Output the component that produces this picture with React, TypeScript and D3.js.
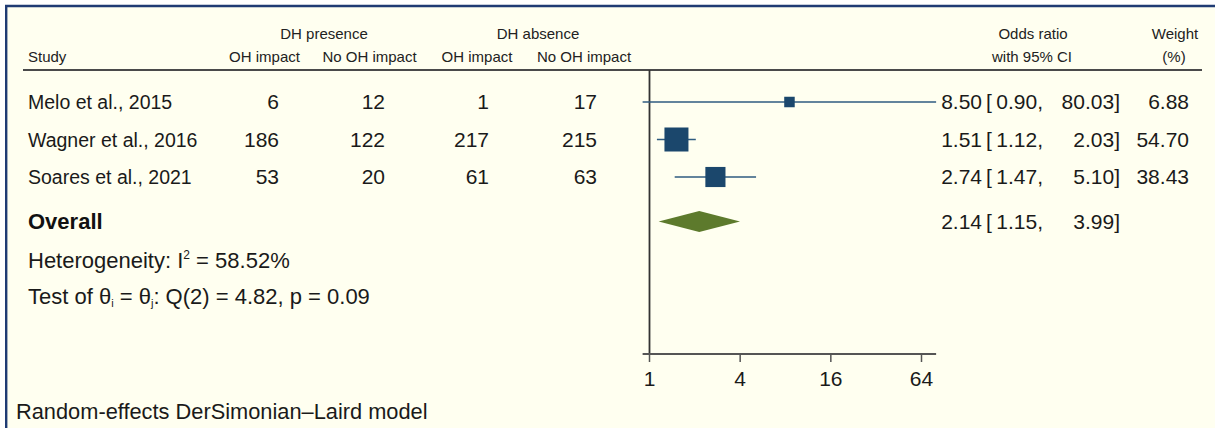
import React from 'react';
import * as d3 from 'd3';

const studies = ['Melo et al., 2015', 'Wagner et al., 2016', 'Soares et al., 2021'];
const dhPresenceOH = [6, 186, 53];
const dhPresenceNoOH = [12, 122, 20];
const dhAbsenceOH = [1, 217, 61];
const dhAbsenceNoOH = [17, 215, 63];
const oddsRatio = [8.5, 1.51, 2.74];
const ciLower = [0.9, 1.12, 1.47];
const ciUpper = [80.03, 2.03, 5.1];
const weights = [6.88, 54.7, 38.43];
const overallLabel = 'Overall';
const overallEstimate = [2.14, 1.15, 3.99];
const axisTicks = [1, 4, 16, 64];
const heterogeneityI2 = '58.52%';
const qStatistic = 'Q(2) = 4.82, p = 0.09';
const footnote = 'Random-effects DerSimonian\u2013Laird model';

const W = 1215;
const H = 428;
const FONT = "'Liberation Sans', Arial, Helvetica, sans-serif";
const TXT = '#1a1a1a';
const MARK = '#1b476c';
const CI_LINE = '#2f5b80';
const DIAMOND = '#5d7a2c';

export default function App() {
  const x = d3.scaleLog().base(2).domain([1, 64]).range([649.5, 921.5]);
  const y = d3.scalePoint<string>().domain(studies).range([102, 177]);
  const yOverall = 221.5;
  const side = d3.scaleSqrt().domain([0, d3.max(weights) as number]).range([0, 24]);
  const f2 = d3.format('.2f');
  const axisY = 354;
  const sepY = 70;
  const cols = [279, 385, 489, 597];
  const colData = [dhPresenceOH, dhPresenceNoOH, dhAbsenceOH, dhAbsenceNoOH];
  const subHeaders = [
    { t: 'OH impact', cx: 264.5 },
    { t: 'No OH impact', cx: 369.5 },
    { t: 'OH impact', cx: 477 },
    { t: 'No OH impact', cx: 584 },
  ];
  const orEnd = 982;
  const bracketX = 986;
  const lowEnd = 1043;
  const upEnd = 1120;
  const wEnd = 1189;

  const diamond = d3.line()([
    [x(overallEstimate[1]), yOverall],
    [x(overallEstimate[0]), yOverall - 10.5],
    [x(overallEstimate[2]), yOverall],
    [x(overallEstimate[0]), yOverall + 10.5],
  ]) + 'Z';

  const ciText = (o: number, l: number, u: number, yy: number, key: string) => (
    <g key={key} fontSize={21} fill={TXT}>
      <text x={orEnd} y={yy} textAnchor="end">{f2(o)}</text>
      <text x={bracketX} y={yy}>[</text>
      <text x={lowEnd} y={yy} textAnchor="end">{f2(l)},</text>
      <text x={upEnd} y={yy} textAnchor="end">{f2(u)}]</text>
    </g>
  );

  return (
    <svg width={W} height={H} style={{ position: 'absolute', left: 0, top: 0, display: 'block' }} fontFamily={FONT}>
      <rect x={0} y={0} width={W} height={H} fill="#ffffff" />
      <rect x={6} y={6} width={W - 6} height={H - 6} fill="#fffff0" />
      <line x1={5} y1={6} x2={W} y2={6} stroke="#1f3b73" strokeWidth={2.4} />
      <line x1={6.2} y1={5} x2={6.2} y2={H} stroke="#1f3b73" strokeWidth={2.4} />

      {/* header */}
      <g fontSize={15} fill="#222">
        <text x={324} y={39} textAnchor="middle">DH presence</text>
        <text x={538} y={39} textAnchor="middle">DH absence</text>
        <text x={1033} y={39} textAnchor="middle">Odds ratio</text>
        <text x={1175} y={39} textAnchor="middle">Weight</text>
        <text x={28} y={62}>Study</text>
        {subHeaders.map((h, i) => (
          <text key={i} x={h.cx} y={62} textAnchor="middle">{h.t}</text>
        ))}
        <text x={1032} y={62} textAnchor="middle">with 95% CI</text>
        <text x={1174} y={62} textAnchor="middle">(%)</text>
      </g>
      <line x1={23} y1={sepY} x2={1202} y2={sepY} stroke="#4a4a4a" strokeWidth={2.2} />

      {/* axis */}
      <line x1={x(1)} y1={sepY} x2={x(1)} y2={axisY} stroke="#333" strokeWidth={1.8} />
      <line x1={x(ciLower[0])} y1={axisY} x2={x(ciUpper[0])} y2={axisY} stroke="#555" strokeWidth={1.8} />
      {axisTicks.map((t) => (
        <g key={t}>
          <line x1={x(t)} y1={axisY} x2={x(t)} y2={axisY + 8} stroke="#555" strokeWidth={1.5} />
          <text x={x(t)} y={axisY + 32} textAnchor="middle" fontSize={21} fill={TXT}>{t}</text>
        </g>
      ))}

      {/* studies */}
      {studies.map((s, i) => {
        const yy = y(s) as number;
        const sz = Math.max(side(weights[i]), 10.5);
        return (
          <g key={s}>
            <text x={28} y={yy + 7} fontSize={19.5} fill={TXT}>{s}</text>
            {colData.map((arr, j) => (
              <text key={j} x={cols[j]} y={yy + 7} fontSize={21} textAnchor="end" fill={TXT}>{arr[i]}</text>
            ))}
            <line x1={x(ciLower[i])} y1={yy} x2={x(ciUpper[i])} y2={yy} stroke={CI_LINE} strokeWidth={1.6} />
            <rect x={x(oddsRatio[i]) - sz / 2} y={yy - sz / 2} width={sz} height={sz} fill={MARK} />
            {ciText(oddsRatio[i], ciLower[i], ciUpper[i], yy + 7, 'ci' + i)}
            <text x={wEnd} y={yy + 7} fontSize={21} textAnchor="end" fill={TXT}>{f2(weights[i])}</text>
          </g>
        );
      })}

      {/* overall */}
      <text x={28} y={yOverall + 7.5} fontSize={22} fontWeight="bold" fill="#111">{overallLabel}</text>
      <path d={diamond} fill={DIAMOND} />
      {ciText(overallEstimate[0], overallEstimate[1], overallEstimate[2], yOverall + 7.5, 'ov')}

      {/* heterogeneity */}
      <text x={28} y={268} fontSize={22} fill={TXT}>
        Heterogeneity: I<tspan dy={-9} fontSize={12}>2</tspan><tspan dy={9}> = {heterogeneityI2}</tspan>
      </text>
      <text x={28} y={304} fontSize={22} fill={TXT}>
        Test of θ<tspan dy={3} fontSize={11}>i</tspan><tspan dy={-3}> = θ</tspan><tspan dy={3} fontSize={11}>j</tspan><tspan dy={-3}>: {qStatistic}</tspan>
      </text>

      <text x={16} y={419} fontSize={21.8} fill={TXT}>{footnote}</text>
    </svg>
  );
}
